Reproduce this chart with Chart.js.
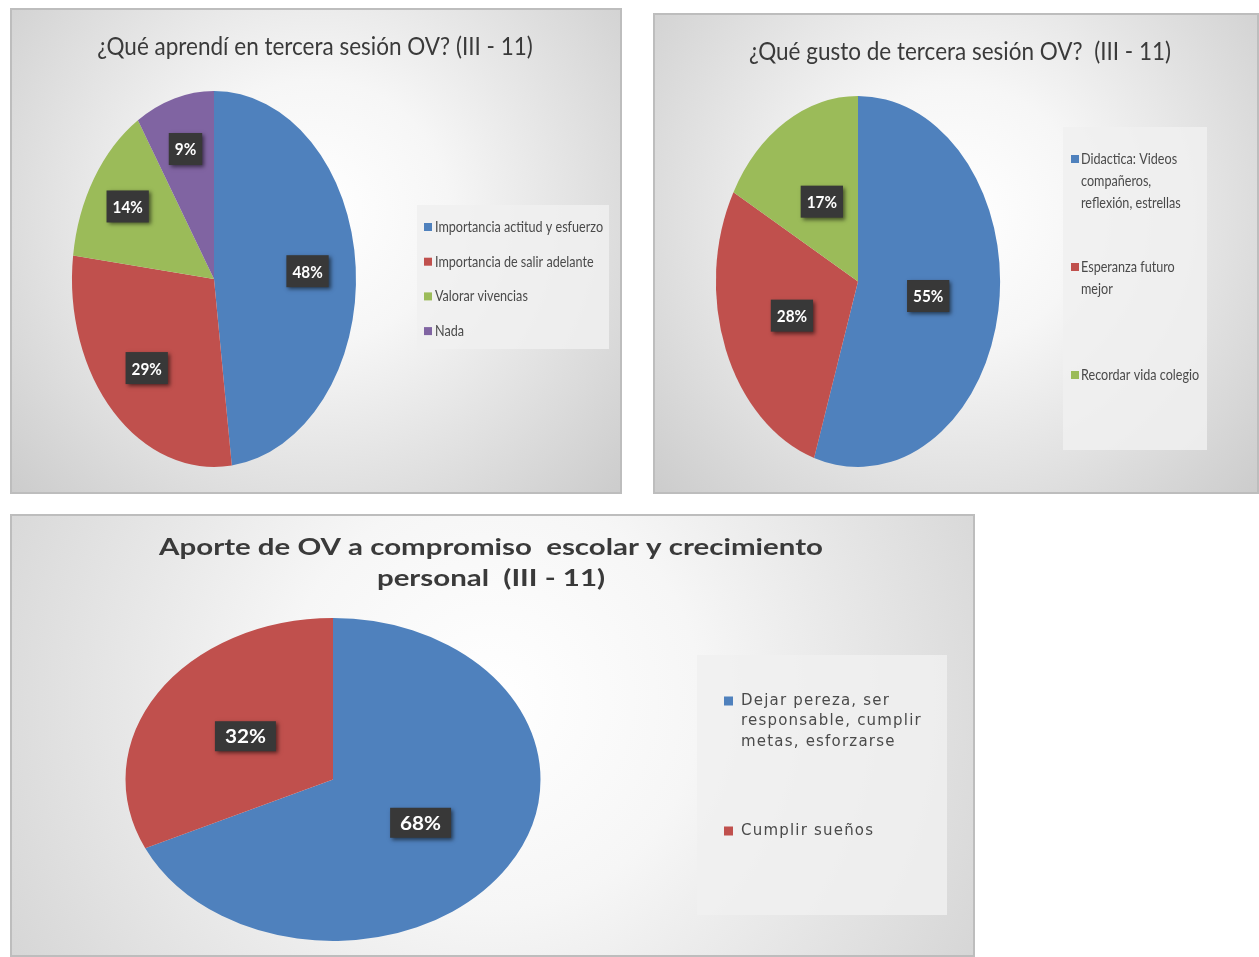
<!DOCTYPE html>
<html>
<head>
<meta charset="utf-8">
<script src="https://cdn.jsdelivr.net/npm/chart.js@4.4.1/dist/chart.umd.min.js"></script>
<style>
  body { margin: 0; background: #fff; width: 1259px; height: 957px; position: relative; overflow: hidden; }
  .panel { position: absolute; }
</style>
</head>
<body>
<div class="panel" style="left:10px;top:8px;width:612px;height:486px"><canvas id="graph1"></canvas></div>
<div class="panel" style="left:653px;top:13px;width:606px;height:481px"><canvas id="graph2"></canvas></div>
<div class="panel" style="left:10px;top:514px;width:965px;height:443px"><canvas id="graph3"></canvas></div>
<script>
// data
const title1 = ['¿Qué aprendí en tercera sesión OV? (III - 11)'];
const labels1 = [['Importancia actitud y esfuerzo'], ['Importancia de salir adelante'], ['Valorar vivencias'], ['Nada']];
const values1 = [48, 29, 14, 9];

const title2 = ['¿Qué gusto de tercera sesión OV?  (III - 11)'];
const labels2 = [['Didactica: Videos', 'compañeros,', 'reflexión, estrellas'], ['Esperanza futuro', 'mejor'], ['Recordar vida colegio']];
const values2 = [55, 28, 17];

const title3 = ['Aporte de OV a compromiso  escolar y crecimiento', 'personal  (III - 11)'];
const labels3 = [['Dejar pereza, ser', 'responsable, cumplir', 'metas, esforzarse'], ['Cumplir sueños']];
const values3 = [68, 32];

const colors = ['#4F81BD', '#C0504D', '#9BBB59', '#8064A2'];

// draws text squeezed or stretched horizontally around its anchor
function fitText(ctx, text, x, y, sx) {
  ctx.save();
  ctx.translate(x, y);
  ctx.scale(sx, 1);
  ctx.fillText(text, 0, 0);
  ctx.restore();
}

const panelPlugin = {
  id: 'panel',
  beforeDraw(chart, args, o) {
    const ctx = chart.ctx;
    const W = chart.width, H = chart.height;
    ctx.save();
    const g = ctx.createRadialGradient(W * 0.5, H * 0.42, 0, W * 0.5, H * 0.42, Math.max(W, H) * 0.72);
    g.addColorStop(0, '#ffffff');
    g.addColorStop(0.3, '#f6f6f6');
    g.addColorStop(1, '#c8c8c8');
    ctx.fillStyle = g;
    ctx.fillRect(0, 0, W, H);
    ctx.strokeStyle = '#bdbdbd';
    ctx.lineWidth = 2;
    ctx.strokeRect(1, 1, W - 2, H - 2);

    // title
    ctx.fillStyle = '#3a3a3a';
    ctx.font = o.titleFont;
    ctx.textAlign = 'center';
    ctx.textBaseline = 'middle';
    o.title.forEach((t, i) => fitText(ctx, t, o.titleX, o.titleY + i * o.titleLine, o.titleScale));

    // legend
    const lg = o.legend;
    ctx.fillStyle = 'rgba(240,240,240,0.85)';
    ctx.fillRect(lg.x, lg.y, lg.w, lg.h);
    ctx.font = o.legendFont;
    ctx.letterSpacing = lg.spacing;
    ctx.textAlign = 'left';
    chart.data.labels.forEach((lines, i) => {
      const y0 = lg.first + i * lg.gap;
      ctx.fillStyle = chart.data.datasets[0].backgroundColor[i];
      ctx.fillRect(lg.mx, y0 - lg.ms / 2, lg.ms, lg.ms);
      ctx.fillStyle = '#4a4a4a';
      lines.forEach((t, j) => fitText(ctx, t, lg.tx, y0 + j * lg.line, lg.scale));
    });
    ctx.restore();
  },
  beforeDatasetsDraw(chart, args, o) {
    const arc = chart.getDatasetMeta(0).data[0];
    const ctx = chart.ctx;
    ctx.save();
    ctx.translate(arc.x, arc.y);
    ctx.scale(o.sx, o.sy);
    ctx.translate(-arc.x, -arc.y);
  },
  afterDatasetsDraw(chart, args, o) {
    const ctx = chart.ctx;
    ctx.restore();
    const vals = chart.data.datasets[0].data;
    const sum = vals.reduce((a, b) => a + b, 0);
    ctx.save();
    ctx.font = o.valueFont;
    ctx.textAlign = 'center';
    ctx.textBaseline = 'middle';
    chart.getDatasetMeta(0).data.forEach((arc, i) => {
      const mid = (arc.startAngle + arc.endAngle) / 2;
      const r = arc.outerRadius * o.labelRadius[i];
      const x = arc.x + Math.cos(mid) * r * o.sx;
      const y = arc.y + Math.sin(mid) * r * o.sy;
      const txt = Math.round(vals[i] / sum * 100) + '%';
      const tw = ctx.measureText(txt).width * o.valueScale;
      const bw = tw + o.boxPad * 2, bh = o.boxH;
      ctx.shadowColor = 'rgba(0,0,0,0.55)';
      ctx.shadowBlur = 4;
      ctx.shadowOffsetX = 2;
      ctx.shadowOffsetY = 2;
      ctx.fillStyle = '#383838';
      ctx.fillRect(x - bw / 2, y - bh / 2, bw, bh);
      ctx.shadowColor = 'transparent';
      ctx.fillStyle = '#ffffff';
      fitText(ctx, txt, x, y + 1, o.valueScale);
    });
    ctx.restore();
  }
};

function makePie(id, labels, values, pad, panel) {
  const ctx = document.getElementById(id).getContext('2d');
  return new Chart(ctx, {
    type: 'pie',
    data: {
      labels: labels,
      datasets: [{
        data: values,
        backgroundColor: colors.slice(0, values.length),
        borderWidth: 0,
        clip: false
      }]
    },
    options: {
      responsive: true,
      maintainAspectRatio: false,
      animation: false,
      events: [],
      layout: { padding: pad },
      plugins: {
        legend: { display: false },
        tooltip: { enabled: false },
        panel: panel
      }
    },
    plugins: [panelPlugin]
  });
}

var graph1 = makePie('graph1', labels1, values1,
  { left: 16, top: 83, right: 220, bottom: 27 },
  {
    title: title1, titleFont: '25px Lato', titleX: 305, titleY: 39, titleLine: 30, titleScale: 0.9,
    legendFont: '15px Lato',
    legend: { x: 407, y: 197, w: 192, h: 144, first: 219, gap: 34.7, line: 22, mx: 414, ms: 8, tx: 425, scale: 0.84, spacing: '0px' },
    sx: 142 / 188, sy: 1, labelRadius: [0.66, 0.67, 0.72, 0.72],
    valueFont: 'bold 17px Lato', valueScale: 0.9, boxPad: 6, boxH: 32
  });

var graph2 = makePie('graph2', labels2, values2,
  { left: 19, top: 83, right: 215, bottom: 27 },
  {
    title: title2, titleFont: '25px Lato', titleX: 307, titleY: 39, titleLine: 30, titleScale: 0.9,
    legendFont: '15px Lato',
    legend: { x: 410, y: 114, w: 144, h: 323, first: 146, gap: 108, line: 22, mx: 418, ms: 8, tx: 428, scale: 0.84, spacing: '0px' },
    sx: 142.5 / 186, sy: 1, labelRadius: [0.5, 0.5, 0.5],
    valueFont: 'bold 17px Lato', valueScale: 0.9, boxPad: 6, boxH: 32
  });

var graph3 = makePie('graph3', labels3, values3,
  { left: 161, top: 104, right: 480, bottom: 16 },
  {
    title: title3, titleFont: 'bold 23px Lato', titleX: 481, titleY: 34, titleLine: 31, titleScale: 1.28,
    legendFont: '15px "DejaVu Sans"',
    legend: { x: 687, y: 141, w: 250, h: 260, first: 187, gap: 130, line: 20.5, mx: 714, ms: 9, tx: 731, scale: 1, spacing: '1.2px' },
    sx: 207.5 / 161.5, sy: 1, labelRadius: [0.5, 0.5],
    valueFont: 'bold 18px Lato', valueScale: 1.15, boxPad: 10, boxH: 30
  });
</script>
</body>
</html>
